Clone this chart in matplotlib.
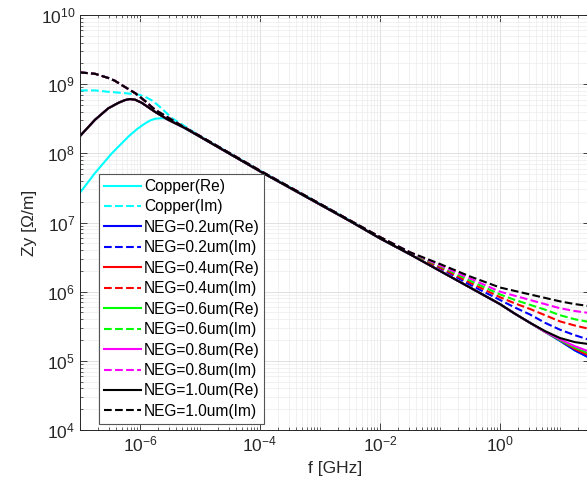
import numpy as np
import matplotlib
matplotlib.use("Agg")
import matplotlib.pyplot as plt
from matplotlib.ticker import LogLocator, NullFormatter

plt.rcParams['font.family'] = ['Liberation Sans', 'DejaVu Sans']
plt.rcParams['mathtext.default'] = 'regular'

# low-frequency part of each curve: log10(f / GHz) and log10(Zy)
cu_re_logf = [-7.0, -6.75, -6.47, -6.19, -6.05, -5.92, -5.83, -5.75, -5.62, -5.5, -5.25]
cu_re_lo = [7.43, 7.715, 8.0, 8.245, 8.35, 8.43, 8.475, 8.50, 8.51, 8.48, 8.36]
cu_im_logf = [-7.0, -6.75, -6.53, -6.25, -6.03, -5.92, -5.81, -5.72, -5.64, -5.47, -5.25]
cu_im_lo = [8.91, 8.91, 8.89, 8.87, 8.85, 8.82, 8.77, 8.71, 8.65, 8.51, 8.39]
neg_re_logf = [-7.0, -6.75, -6.53, -6.36, -6.25, -6.17, -6.08, -5.97, -5.75, -5.53, -5.25]
neg_re_lo = [8.25, 8.485, 8.65, 8.73, 8.77, 8.785, 8.775, 8.73, 8.60, 8.485, 8.365]
neg_im_logf = [-7.0, -6.75, -6.53, -6.42, -6.31, -6.08, -5.92, -5.83, -5.75, -5.5, -5.25]
neg_im_lo = [9.17, 9.15, 9.09, 9.05, 8.99, 8.87, 8.76, 8.69, 8.63, 8.50, 8.37]

# shared middle stretch
logf_mid = [-5.0, -4.5, -4.0, -3.5, -3.0, -2.5]
mid_re = [8.24, 7.99, 7.74, 7.50, 7.26, 7.02]
mid_im = [8.25, 8.00, 7.75, 7.51, 7.27, 7.03]

# high-frequency part
logf_hi = [-2.0, -1.5, -1.0, -0.5, 0.0, 0.25, 0.5, 0.75, 1.0, 1.25, 1.5]
cu_re_hi = [6.77, 6.54, 6.30, 6.06, 5.82, 5.68, 5.55, 5.42, 5.29, 5.15, 5.04]
cu_im_hi = [6.77, 6.54, 6.30, 6.06, 5.82, 5.68, 5.55, 5.42, 5.29, 5.15, 5.04]

thickness = ['0.2', '0.4', '0.6', '0.8', '1.0']
colors = ['#0000ff', '#ff0000', '#00ff00', '#ff00ff', '#000000']

neg_re_hi = [
    [6.77, 6.54, 6.30, 6.06, 5.82, 5.68, 5.55, 5.42, 5.29, 5.15, 5.04],
    [6.77, 6.54, 6.30, 6.06, 5.82, 5.68, 5.55, 5.42, 5.30, 5.17, 5.07],
    [6.77, 6.54, 6.30, 6.06, 5.82, 5.68, 5.55, 5.42, 5.30, 5.19, 5.10],
    [6.77, 6.54, 6.30, 6.06, 5.82, 5.68, 5.55, 5.42, 5.31, 5.21, 5.13],
    [6.77, 6.54, 6.30, 6.06, 5.82, 5.68, 5.55, 5.43, 5.33, 5.27, 5.24],
]
neg_im_hi = [
    [6.78, 6.55, 6.34, 6.10, 5.88, 5.77, 5.67, 5.55, 5.45, 5.37, 5.30],
    [6.79, 6.56, 6.35, 6.13, 5.92, 5.83, 5.75, 5.66, 5.57, 5.51, 5.46],
    [6.79, 6.56, 6.37, 6.16, 5.96, 5.88, 5.81, 5.74, 5.66, 5.60, 5.56],
    [6.79, 6.57, 6.38, 6.19, 6.00, 5.94, 5.88, 5.82, 5.76, 5.72, 5.69],
    [6.79, 6.57, 6.40, 6.22, 6.06, 6.01, 5.96, 5.91, 5.86, 5.82, 5.79],
]


def curve(logf_lo, lo, mid, hi):
    x = 10.0 ** np.array(logf_lo + logf_mid + logf_hi)
    y = 10.0 ** np.array(lo + mid + hi)
    return x, y


fig = plt.figure(figsize=(5.87, 4.88), dpi=100)
ax = fig.add_axes([80 / 587, 58 / 488, 510 / 587, 415 / 488])

lw = 1.5
ax.loglog(*curve(cu_re_logf, cu_re_lo, mid_re, cu_re_hi), '-', color='#00ffff', lw=lw, label='Copper(Re)')
ax.loglog(*curve(cu_im_logf, cu_im_lo, mid_im, cu_im_hi), '--', color='#00ffff', lw=lw, label='Copper(Im)')
for t, c, re_hi, im_hi in zip(thickness, colors, neg_re_hi, neg_im_hi):
    ax.loglog(*curve(neg_re_logf, neg_re_lo, mid_re, re_hi), '-', color=c, lw=lw,
              label='NEG=' + t + 'um(Re)')
    ax.loglog(*curve(neg_im_logf, neg_im_lo, mid_im, im_hi), '--', color=c, lw=lw,
              label='NEG=' + t + 'um(Im)')

ax.set_xlim(1e-7, 10 ** 1.5)
ax.set_ylim(1e4, 1e10)

ax.set_xticks([1e-6, 1e-4, 1e-2, 1e0])
ax.xaxis.set_minor_locator(LogLocator(base=10, subs=np.arange(1, 10), numticks=30))
ax.xaxis.set_minor_formatter(NullFormatter())
ax.set_yticks([1e4, 1e5, 1e6, 1e7, 1e8, 1e9, 1e10])
ax.yaxis.set_minor_locator(LogLocator(base=10, subs=np.arange(2, 10), numticks=30))
ax.yaxis.set_minor_formatter(NullFormatter())

# light major and minor grid
ax.grid(True, which='major', color='#dcdcdc', lw=0.6)
ax.grid(True, which='minor', color='#ececec', lw=0.5)
ax.set_axisbelow(True)

axis_col = '#262626'
for s in ax.spines.values():
    s.set_color(axis_col)
    s.set_linewidth(0.7)
ax.tick_params(which='both', direction='in', top=True, right=True, colors=axis_col,
               labelcolor=axis_col, labelsize=12.5)
ax.tick_params(which='major', length=5, width=0.6)
ax.tick_params(which='minor', length=2.5, width=0.5)

ax.set_xlabel('f [GHz]', fontsize=12.5, color=axis_col)
ax.set_ylabel('Zy [Ω/m]', fontsize=12.5, color=axis_col)
ax.xaxis.set_label_coords(0.5, -0.075)
ax.yaxis.set_label_coords(-0.085, 0.5)

leg = ax.legend(loc='upper left', bbox_to_anchor=(0.037, 0.616), borderaxespad=0,
                fontsize=11.2, handlelength=2.4, handletextpad=0.2, labelspacing=0.35,
                borderpad=0.3, fancybox=False, framealpha=1, edgecolor='#555555')
leg.get_frame().set_linewidth(0.8)

fig.savefig('out.png', dpi=100)
